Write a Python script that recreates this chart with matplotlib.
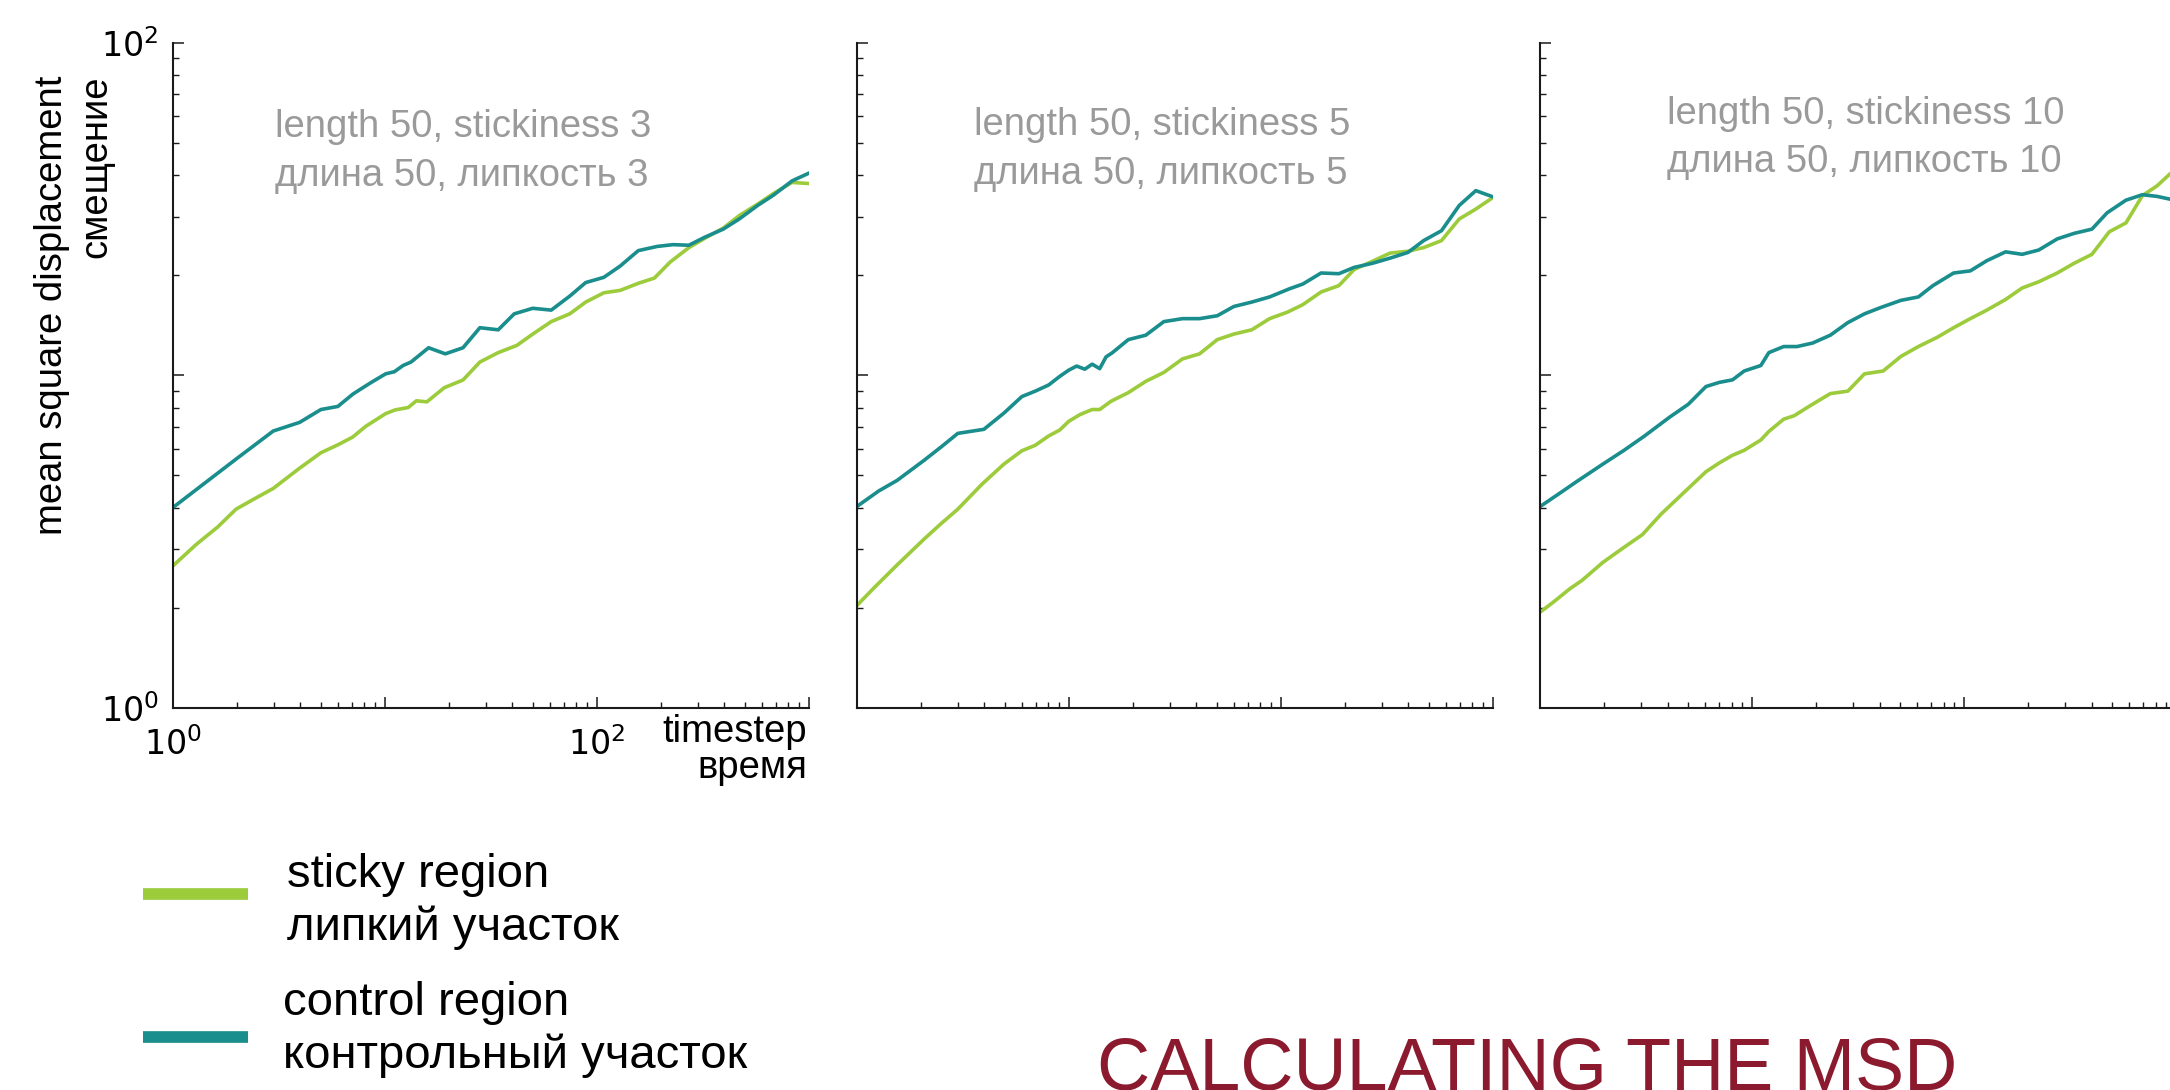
import matplotlib
matplotlib.use("Agg")
import matplotlib.pyplot as plt
from matplotlib.lines import Line2D
from matplotlib.ticker import LogLocator, NullFormatter

plt.rcParams["font.family"] = ["Liberation Sans", "DejaVu Sans"]
plt.rcParams["mathtext.fontset"] = "dejavusans"

STICKY = "#9ccb3b"
CONTROL = "#1a8d8d"
INK = "#1a1a1a"
GRAY = "#9a9a9a"
TITLE_RED = "#8b1a2f"

panel_notes = [
    "length 50, stickiness 3\nдлина 50, липкость 3",
    "length 50, stickiness 5\nдлина 50, липкость 5",
    "length 50, stickiness 10\nдлина 50, липкость 10",
]

# stickiness 3
s3_control_t = [1, 1.29, 1.99, 2.98, 3.97, 5.0, 6.01, 7.06, 7.70, 8.64, 10.1, 11.1, 12.2,
                13.3, 16.1, 19.3, 23.4, 28.1, 34.3, 40.8, 49.9, 61.0, 74.6, 88.7, 108,
                129, 157, 193, 229, 272, 323, 395, 470, 574, 682, 834, 1000]
s3_control_msd = [4.0, 4.53, 5.60, 6.80, 7.22, 7.89, 8.06, 8.77, 9.09, 9.52, 10.1, 10.25,
                  10.7, 10.96, 12.1, 11.6, 12.1, 13.9, 13.7, 15.3, 15.9, 15.7, 17.3, 19.0,
                  19.7, 21.3, 23.7, 24.4, 24.7, 24.6, 26.0, 27.5, 29.5, 32.4, 34.8, 38.4, 40.5]
s3_sticky_t = [1, 1.29, 1.63, 1.99, 2.44, 2.98, 3.97, 5.0, 6.01, 7.06, 8.15, 10.1, 11.2,
               12.9, 14.1, 15.8, 19.1, 23.4, 28.1, 34.3, 42.0, 49.9, 61.0, 74.6, 88.7, 108,
               129, 157, 187, 222, 272, 323, 395, 470, 574, 682, 834, 1000]
s3_sticky_msd = [2.67, 3.10, 3.50, 3.96, 4.26, 4.57, 5.26, 5.85, 6.18, 6.52, 7.03, 7.67,
                 7.87, 8.0, 8.38, 8.32, 9.18, 9.68, 10.96, 11.7, 12.3, 13.3, 14.5, 15.3,
                 16.6, 17.7, 18.0, 18.9, 19.6, 21.9, 24.2, 25.8, 27.7, 30.2, 32.7, 35.2,
                 38.0, 37.7]

# stickiness 5
s5_control_t = [1, 1.27, 1.55, 2.07, 2.51, 3.0, 3.98, 4.95, 6.01, 6.95, 8.04, 9.08, 10.0,
                10.9, 11.9, 12.9, 14.0, 15.0, 16.0, 19.1, 23.1, 28.1, 34.4, 41.4, 50.2,
                60.1, 73.0, 88.6, 110, 127, 155, 188, 222, 270, 328, 398, 472, 573, 695,
                832, 1000]
s5_control_msd = [4.03, 4.49, 4.83, 5.54, 6.10, 6.69, 6.88, 7.70, 8.63, 8.96, 9.35, 9.93,
                  10.36, 10.66, 10.43, 10.8, 10.47, 11.36, 11.67, 12.8, 13.2, 14.5, 14.8,
                  14.8, 15.1, 16.1, 16.6, 17.2, 18.2, 18.8, 20.3, 20.2, 21.1, 21.7, 22.5,
                  23.4, 25.4, 27.2, 32.4, 35.9, 34.4]
s5_sticky_t = [1, 1.21, 1.55, 2.07, 2.51, 3.0, 3.89, 4.95, 6.01, 6.95, 8.04, 9.08, 10.0,
               11.3, 12.9, 14.0, 15.8, 19.1, 23.1, 28.1, 34.4, 41.4, 50.2, 60.1, 73.0,
               88.6, 108, 127, 155, 188, 222, 270, 328, 398, 472, 573, 695, 832, 1000]
s5_sticky_msd = [2.03, 2.30, 2.69, 3.21, 3.59, 3.96, 4.70, 5.41, 5.93, 6.16, 6.57, 6.85,
                 7.27, 7.62, 7.89, 7.89, 8.35, 8.87, 9.59, 10.2, 11.2, 11.6, 12.8, 13.3,
                 13.7, 14.8, 15.5, 16.3, 17.8, 18.6, 20.8, 22.0, 23.3, 23.6, 24.2, 25.4,
                 29.5, 31.6, 34.2]

# stickiness 10
s10_control_t = [1, 1.29, 1.48, 1.98, 2.49, 3.11, 4.08, 5.0, 6.06, 7.0, 8.09, 9.18, 11.0,
                 12.0, 14.1, 16.3, 19.3, 23.4, 28.3, 33.9, 40.6, 50.4, 60.9, 71.3, 89.3,
                 107, 128, 157, 188, 225, 275, 330, 401, 473, 580, 694, 813, 944, 1000]
s10_control_msd = [4.03, 4.50, 4.78, 5.41, 5.95, 6.57, 7.48, 8.18, 9.25, 9.52, 9.69, 10.3,
                   10.7, 11.7, 12.2, 12.2, 12.5, 13.2, 14.4, 15.3, 16.0, 16.8, 17.2, 18.6,
                   20.3, 20.6, 22.1, 23.5, 23.1, 23.8, 25.7, 26.7, 27.5, 30.8, 33.6, 34.9,
                   34.5, 33.8, 33.5]
s10_sticky_t = [1, 1.155, 1.38, 1.58, 1.98, 2.49, 3.04, 3.73, 5.0, 6.06, 7.0, 8.09, 9.18,
                11.0, 12.0, 14.1, 15.8, 18.9, 23.4, 28.3, 33.9, 41.5, 50.4, 60.9, 74.6,
                89.3, 107, 128, 157, 188, 225, 275, 330, 401, 484, 580, 694, 813, 944, 1000]
s10_sticky_msd = [1.94, 2.08, 2.28, 2.42, 2.74, 3.04, 3.32, 3.83, 4.57, 5.13, 5.45, 5.75,
                  5.95, 6.39, 6.78, 7.38, 7.56, 8.12, 8.81, 8.96, 10.1, 10.3, 11.4, 12.2,
                  13.0, 13.9, 14.8, 15.7, 16.9, 18.3, 19.1, 20.3, 21.7, 23.1, 27.0, 28.7,
                  34.7, 37.1, 40.5, 42.0]

panels = [
    (s3_sticky_t, s3_sticky_msd, s3_control_t, s3_control_msd),
    (s5_sticky_t, s5_sticky_msd, s5_control_t, s5_control_msd),
    (s10_sticky_t, s10_sticky_msd, s10_control_t, s10_control_msd),
]
# anchor = baseline of the last line of each note
note_pos = [(0.161, 0.785), (0.184, 0.788), (0.200, 0.805)]
panel_left = [0.0796, 0.3948, 0.7097]

fig = plt.figure(figsize=(21.7, 10.9), dpi=100)

for i, (st, sm, ct, cm) in enumerate(panels):
    ax = fig.add_axes([panel_left[i], 0.3505, 0.2931, 0.6104])
    ax.plot(st, sm, color=STICKY, lw=2.6, solid_joinstyle="round")
    ax.plot(ct, cm, color=CONTROL, lw=2.6, solid_joinstyle="round")
    ax.set_xscale("log")
    ax.set_yscale("log")
    ax.set_xlim(1, 1000)
    ax.set_ylim(1, 100)

    for side in ("top", "right"):
        ax.spines[side].set_visible(False)
    for side in ("left", "bottom"):
        ax.spines[side].set_linewidth(1.5)
        ax.spines[side].set_color(INK)

    ax.xaxis.set_minor_locator(LogLocator(base=10, subs=range(2, 10)))
    ax.yaxis.set_minor_locator(LogLocator(base=10, subs=range(2, 10)))
    ax.xaxis.set_minor_formatter(NullFormatter())
    ax.yaxis.set_minor_formatter(NullFormatter())
    if i == 0:
        ax.set_xticks([1, 10, 100, 1000], labels=["$10^{0}$", "", "$10^{2}$", ""])
        ax.set_yticks([1, 10, 100], labels=["$10^{0}$", "", "$10^{2}$"])
    else:
        ax.set_xticks([1, 10, 100, 1000], labels=[])
        ax.set_yticks([1, 10, 100], labels=[])
    ax.tick_params(which="major", direction="in", length=8, width=1.1, color=INK,
                   labelsize=24)
    ax.tick_params(which="minor", direction="in", length=4, width=1.0, color=INK)
    ax.tick_params(axis="x", which="major", pad=14)
    ax.tick_params(axis="y", which="major", pad=10)

    ax.text(note_pos[i][0], note_pos[i][1], panel_notes[i], transform=ax.transAxes,
            fontsize=27.5, color=GRAY, ha="left", va="baseline", linespacing=1.45)

    if i == 0:
        ax.text(0.997, -0.105, "timestep\nвремя", transform=ax.transAxes,
                fontsize=27.5, color="black", ha="right", va="baseline",
                multialignment="right", linespacing=1.0)

fig.text(0.0525, 0.931, "mean square displacement\nсмещение", rotation=90,
         fontsize=27.5, ha="right", va="top", multialignment="right", linespacing=1.3)

# legend keys; text anchored on the baseline of its last line
legend_rows = [
    (STICKY, "sticky region\nлипкий участок", 0.1798, 0.1323, 0.1376),
    (CONTROL, "control region\nконтрольный участок", 0.0489, 0.1304, 0.0205),
]
for color, label, yk, xt, yt in legend_rows:
    fig.add_artist(Line2D([0.0660, 0.1141], [yk, yk], transform=fig.transFigure,
                          color=color, lw=8.4, solid_capstyle="butt"))
    fig.text(xt, yt, label, fontsize=34, ha="left", va="baseline", linespacing=1.25)

fig.text(0.5055, 0.0, "CALCULATING THE MSD", fontsize=53, color=TITLE_RED,
         ha="left", va="baseline")

fig.savefig("out.png", dpi=100)
